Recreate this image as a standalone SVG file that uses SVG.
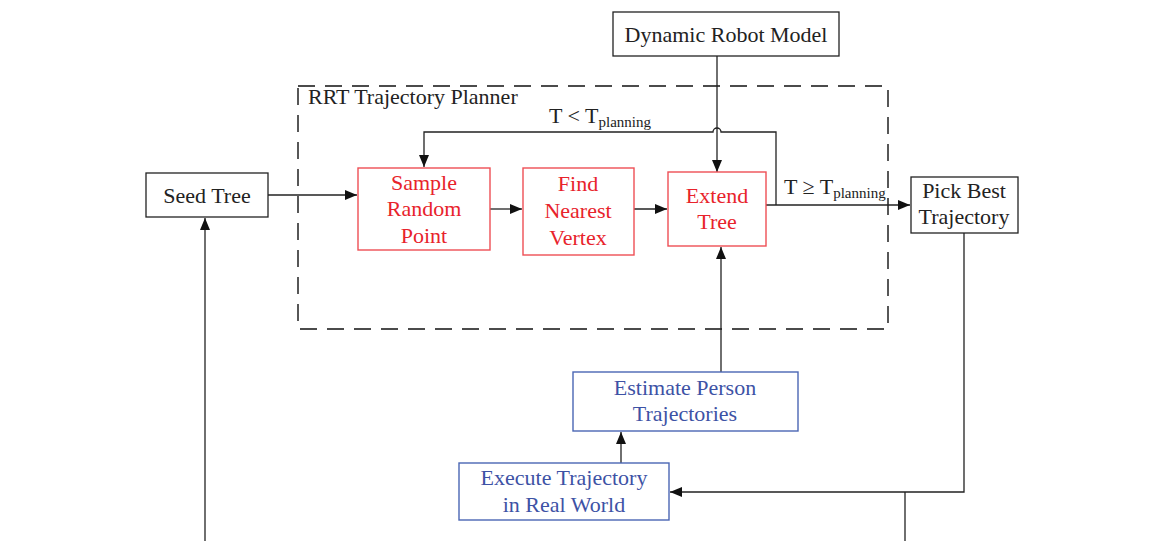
<svg xmlns="http://www.w3.org/2000/svg" width="1151" height="541" viewBox="0 0 1151 541">
<defs>
<marker id="ah" markerWidth="12" markerHeight="10" refX="12" refY="5" orient="auto" markerUnits="userSpaceOnUse">
<path d="M0,0 L12,5 L0,10 Z" fill="#111"/>
</marker>
<style>
text{font-family:"Liberation Serif","Times New Roman",serif;font-size:22px;text-anchor:middle}
.k{fill:#222}
.r{fill:#e8232b}
.b{fill:#3d52a5}
.bk{fill:#fff;stroke:#222;stroke-width:1.3}
.br{fill:#fff;stroke:#ee4f55;stroke-width:1.4}
.bb{fill:#fff;stroke:#4a66b4;stroke-width:1.4}
.ln{fill:none;stroke:#222;stroke-width:1.3}
.sub{font-size:15px}
</style>
</defs>
<rect width="1151" height="541" fill="#fff"/>

<g id="planner">
<rect x="298" y="86" width="590" height="243" fill="none" stroke="#111" stroke-width="1.4" stroke-dasharray="17,10"/>
<text x="308" y="104" class="k" style="text-anchor:start">RRT Trajectory Planner</text>
</g>

<g id="connectors">
<path class="ln" d="M717,56 V86" />
<path class="ln" d="M717,86 V172" marker-end="url(#ah)"/>
<path class="ln" d="M776,205 V132 H721 A4,4 0 0 0 713,132 H424 V167" marker-end="url(#ah)"/>
<path class="ln" d="M268,195 H357" marker-end="url(#ah)"/>
<path class="ln" d="M490,209 H522" marker-end="url(#ah)"/>
<path class="ln" d="M634,209 H667" marker-end="url(#ah)"/>
<path class="ln" d="M766,205 H910" marker-end="url(#ah)"/>
<path class="ln" d="M721,372 V247" marker-end="url(#ah)"/>
<path class="ln" d="M621,463 V432" marker-end="url(#ah)"/>
<path class="ln" d="M964,233 V492 H670" marker-end="url(#ah)"/>
<path class="ln" d="M905,492 V541"/>
<path class="ln" d="M205,541 V218" marker-end="url(#ah)"/>
</g>

<g id="labels">
<text x="549" y="123" class="k" style="text-anchor:start">T &lt; T<tspan class="sub" dy="4">planning</tspan></text>
<text x="784" y="194" class="k" style="text-anchor:start">T ≥ T<tspan class="sub" dy="4">planning</tspan></text>
</g>

<g id="dynamic-robot-model">
<rect class="bk" x="613" y="12" width="226" height="44"/>
<text x="726" y="42" class="k">Dynamic Robot Model</text>
</g>

<g id="seed-tree">
<rect class="bk" x="146" y="173" width="122" height="44"/>
<text x="207" y="203" class="k">Seed Tree</text>
</g>

<g id="sample-random-point">
<rect class="br" x="358" y="168" width="132" height="82"/>
<text x="424" y="190" class="r">Sample</text>
<text x="424" y="216" class="r">Random</text>
<text x="424" y="243" class="r">Point</text>
</g>

<g id="find-nearest-vertex">
<rect class="br" x="523" y="168" width="111" height="87"/>
<text x="578" y="191" class="r">Find</text>
<text x="578" y="218" class="r">Nearest</text>
<text x="578" y="245" class="r">Vertex</text>
</g>

<g id="extend-tree">
<rect class="br" x="668" y="172" width="98" height="74"/>
<text x="717" y="203" class="r">Extend</text>
<text x="717" y="229" class="r">Tree</text>
</g>

<g id="pick-best-trajectory">
<rect class="bk" x="911" y="177" width="107" height="56"/>
<text x="964" y="198" class="k">Pick Best</text>
<text x="964" y="224" class="k">Trajectory</text>
</g>

<g id="estimate-person-trajectories">
<rect class="bb" x="573" y="372" width="225" height="59"/>
<text x="685" y="395" class="b">Estimate Person</text>
<text x="685" y="421" class="b">Trajectories</text>
</g>

<g id="execute-trajectory">
<rect class="bb" x="459" y="463" width="210" height="57"/>
<text x="564" y="485" class="b">Execute Trajectory</text>
<text x="564" y="512" class="b">in Real World</text>
</g>
</svg>
